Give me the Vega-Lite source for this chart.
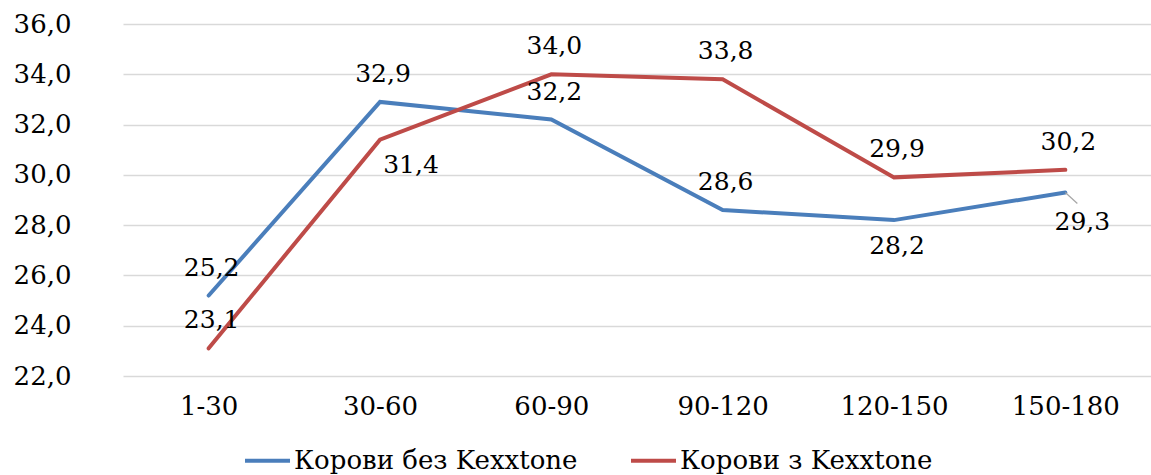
{
  "$schema": "https://vega.github.io/schema/vega-lite/v6.json",
  "width": 1028,
  "height": 352,
  "autosize": {"type": "none"},
  "padding": {"left": 123, "top": 24, "right": 0, "bottom": 99},
  "background": "white",
  "config": {
    "locale": {"number": {"decimal": ",", "thousands": " ", "grouping": [3], "currency": ["", ""]}},
    "view": {"stroke": null},
    "font": "DejaVu Serif",
    "text": {"font": "DejaVu Serif", "fontSize": 25, "color": "#000000"}
  },
  "data": {
    "values": [
      {"period": "1-30", "series": "Корови без Kexxtone", "value": 25.2},
      {"period": "30-60", "series": "Корови без Kexxtone", "value": 32.9},
      {"period": "60-90", "series": "Корови без Kexxtone", "value": 32.2},
      {"period": "90-120", "series": "Корови без Kexxtone", "value": 28.6},
      {"period": "120-150", "series": "Корови без Kexxtone", "value": 28.2},
      {"period": "150-180", "series": "Корови без Kexxtone", "value": 29.3},
      {"period": "1-30", "series": "Корови з Kexxtone", "value": 23.1},
      {"period": "30-60", "series": "Корови з Kexxtone", "value": 31.4},
      {"period": "60-90", "series": "Корови з Kexxtone", "value": 34.0},
      {"period": "90-120", "series": "Корови з Kexxtone", "value": 33.8},
      {"period": "120-150", "series": "Корови з Kexxtone", "value": 29.9},
      {"period": "150-180", "series": "Корови з Kexxtone", "value": 30.2}
    ]
  },
  "encoding": {
    "x": {
      "field": "period",
      "type": "nominal",
      "sort": ["1-30", "30-60", "60-90", "90-120", "120-150", "150-180"],
      "scale": {"type": "point", "padding": 0.5},
      "axis": {
        "title": null,
        "domain": false,
        "ticks": false,
        "labelAngle": 0,
        "labelFont": "DejaVu Serif",
        "labelFontSize": 26,
        "labelColor": "#000000",
        "labelPadding": 17
      }
    },
    "y": {
      "field": "value",
      "type": "quantitative",
      "scale": {"domain": [22, 36], "nice": false, "zero": false},
      "axis": {
        "title": null,
        "domain": false,
        "ticks": false,
        "values": [22, 24, 26, 28, 30, 32, 34, 36],
        "format": ".1f",
        "labelFont": "DejaVu Serif",
        "labelFontSize": 26,
        "labelColor": "#000000",
        "labelPadding": 52,
        "gridColor": "#d9d9d9",
        "gridWidth": 1.5
      }
    }
  },
  "layer": [
    {
      "mark": {"type": "line", "strokeWidth": 4, "strokeCap": "round", "strokeJoin": "miter"},
      "encoding": {
        "color": {
          "field": "series",
          "type": "nominal",
          "scale": {"domain": ["Корови без Kexxtone", "Корови з Kexxtone"], "range": ["#4a7ebb", "#be4b48"]},
          "legend": {
            "title": null,
            "orient": "none",
            "direction": "horizontal",
            "legendX": 120,
            "legendY": 412,
            "symbolType": "stroke",
            "symbolSize": 2025,
            "symbolStrokeWidth": 4,
            "labelFont": "DejaVu Serif",
            "labelFontSize": 26,
            "labelColor": "#000000",
            "labelOffset": 2,
            "columnPadding": 45,
            "labelLimit": 400
          }
        }
      }
    },
    {
      "transform": [
        {"filter": "!((datum.series == 'Корови з Kexxtone' && datum.period == '30-60') || (datum.series == 'Корови без Kexxtone' && (datum.period == '120-150' || datum.period == '150-180')))"}
      ],
      "mark": {"type": "text", "dy": -28, "dx": 3, "baseline": "middle"},
      "encoding": {"text": {"field": "value", "type": "quantitative", "format": ".1f"}}
    },
    {
      "transform": [
        {"filter": "datum.series == 'Корови без Kexxtone' && datum.period == '120-150'"}
      ],
      "mark": {"type": "text", "dy": 26, "dx": 3, "baseline": "middle"},
      "encoding": {"text": {"field": "value", "type": "quantitative", "format": ".1f"}}
    },
    {
      "transform": [
        {"filter": "datum.series == 'Корови з Kexxtone' && datum.period == '30-60'"}
      ],
      "mark": {"type": "text", "dy": 25, "dx": 31, "baseline": "middle"},
      "encoding": {"text": {"field": "value", "type": "quantitative", "format": ".1f"}}
    },
    {
      "transform": [
        {"filter": "datum.series == 'Корови без Kexxtone' && datum.period == '150-180'"}
      ],
      "mark": {"type": "rule", "color": "#a6a6a6", "strokeWidth": 1.2, "x2Offset": 12, "y2Offset": 11},
      "encoding": {
        "x2": {"field": "period"},
        "y2": {"field": "value"}
      }
    },
    {
      "transform": [
        {"filter": "datum.series == 'Корови без Kexxtone' && datum.period == '150-180'"}
      ],
      "mark": {"type": "text", "dy": 30, "dx": 17, "baseline": "middle"},
      "encoding": {"text": {"field": "value", "type": "quantitative", "format": ".1f"}}
    }
  ]
}
